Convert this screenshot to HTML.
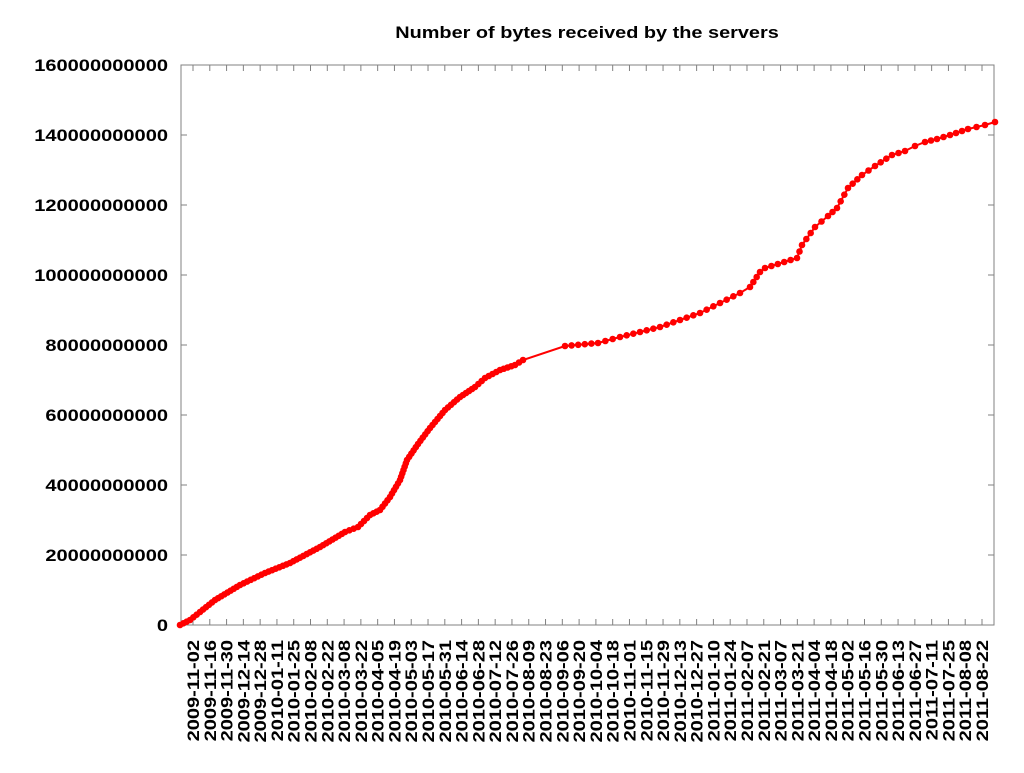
<!DOCTYPE html>
<html><head><meta charset="utf-8"><style>
body{margin:0;background:#fff;width:1024px;height:768px;overflow:hidden}
svg text{font-family:"Liberation Sans",sans-serif;font-weight:bold;fill:#000}
</style></head><body>
<svg id="s" width="1024" height="768" xmlns="http://www.w3.org/2000/svg">
<rect x="181" y="65" width="813" height="560" fill="none" stroke="#808080" stroke-width="1"/>
<text x="0" y="0" font-size="17" text-anchor="middle" transform="translate(587,38) scale(1.17,1)">Number of bytes received by the servers</text>
<g id="y"></g>
<g id="xt"></g>
<polyline id="pl" fill="none" stroke="#f00" stroke-width="2"/>
<g id="dots" fill="#f00"></g>
</svg>
<script>
var s='http://www.w3.org/2000/svg';
function el(t,a,p,txt){var e=document.createElementNS(s,t);for(var k in a)e.setAttribute(k,a[k]);if(txt)e.textContent=txt;p.appendChild(e);return e;}
var yg=document.getElementById('y'),xt=document.getElementById('xt');
for(var i=0;i<=8;i++){var y=625-i*70;
el('text',{x:0,y:0,'font-size':17,'text-anchor':'end',transform:'translate(168,'+(y+6)+') scale(1.18,1)'},yg,i==0?'0':(i*20)+'000000000');
if(i>0&&i<8){el('line',{x1:181,y1:y,x2:187,y2:y,stroke:'#808080'},xt);el('line',{x1:988,y1:y,x2:994,y2:y,stroke:'#808080'},xt);}}
var d0=new Date(Date.UTC(2009,10,2));
for(var i=0;i<48;i++){var x=193+i*789/47;var d=new Date(d0.getTime()+i*14*864e5);
var lab=d.toISOString().slice(0,10);
el('line',{x1:x,y1:625,x2:x,y2:619,stroke:'#808080'},xt);el('line',{x1:x,y1:65,x2:x,y2:71,stroke:'#808080'},xt);
el('text',{x:0,y:0,'font-size':17,'text-anchor':'end',transform:'translate('+(x+6)+',640) rotate(-90) scale(1.18,1)'},xt,lab);}
var P=[[180,625],[190,620],[200,612],[215,600],[240,585],[265,573],[290,563],[320,547],[345,532],[358,527],[370,515],[380,510],[390,497],[400,480],[407,460],[418,444],[430,428],[445,410],[460,397],[475,387],[485,378],[500,370],[515,365],[523,360],[565,346],[598,343],[620,337],[640,332],[660,327],[680,320],[700,313],[720,303],[740,293],[750,287],[760,272],[765,268],[797,258],[802,245],[815,227],[828,216],[837,208],[848,188],[862,175],[875,166],[892,155],[905,151],[915,146],[925,142],[937,139],[950,135],[968,129],[985,125],[995,122]];
document.getElementById('pl').setAttribute('points',P.map(function(p){return p.join(',')}).join(' '));
var dg=document.getElementById('dots');
for(var i=0;i<P.length;i++){el('circle',{cx:P[i][0],cy:P[i][1],r:3.3},dg);
if(i<P.length-1){var a=P[i],b=P[i+1],dx=b[0]-a[0],dy=b[1]-a[1],L=Math.sqrt(dx*dx+dy*dy);
if(L<40||(a[0]>600&&a[0]<900&&L<25)){var n=Math.floor(L/(a[0]<530?3.5:6));for(var k=1;k<n;k++)el('circle',{cx:a[0]+dx*k/n,cy:a[1]+dy*k/n,r:3.3},dg);}}}
</script>
</body></html>
